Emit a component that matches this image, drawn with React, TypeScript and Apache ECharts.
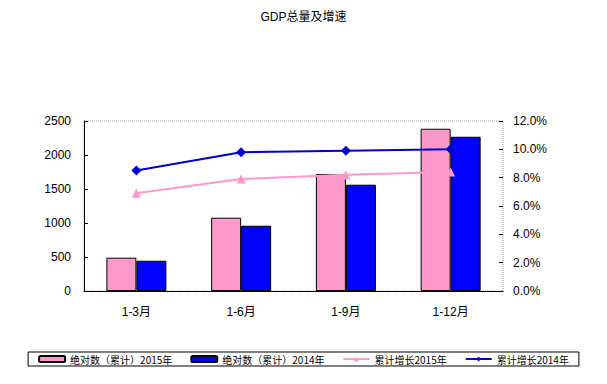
import React, { useEffect, useRef } from "react";
import * as echarts from "echarts";

const categories = ["1-3月", "1-6月", "1-9月", "1-12月"];
const total2015 = [490, 1078, 1720, 2386];
const total2014 = [445, 960, 1563, 2268];
const growth2015 = [6.9, 7.9, 8.2, 8.4];
const growth2014 = [8.5, 9.8, 9.9, 10.0];
const seriesNames = ["绝对数（累计）2015年", "绝对数（累计）2014年", "累计增长2015年", "累计增长2014年"];
const titleText = "GDP总量及增速";

export default function App() {
  const ref = useRef<HTMLDivElement>(null);
  useEffect(() => {
    if (!ref.current) return;
    const chart = echarts.init(ref.current, undefined, { renderer: "svg" });
    const axisFont = { fontFamily: "Liberation Sans, Noto Sans CJK SC", fontSize: 12, color: "#000" };
    chart.setOption({
      animation: false,
      backgroundColor: "#fff",
      title: {
        text: titleText,
        left: "center",
        top: 6,
        textStyle: { fontFamily: "Liberation Sans, Noto Sans CJK SC", fontSize: 12, fontWeight: "normal", color: "#000" },
      },
      grid: {
        left: 84,
        right: 104,
        top: 121,
        bottom: 93,
        show: true,
        borderColor: "#999",
        borderWidth: 1,
        borderType: "dotted",
        backgroundColor: "transparent",
      },
      legend: {
        left: "center",
        top: 352,
        padding: [2, 10],
        itemGap: 18,
        itemWidth: 26,
        itemHeight: 6,
        borderColor: "#000",
        borderWidth: 1,
        textStyle: { fontFamily: "Noto Sans CJK SC", fontSize: 10, color: "#000" },
        data: seriesNames,
      },
      xAxis: {
        type: "category",
        data: categories,
        axisLine: { lineStyle: { color: "#000", width: 1 } },
        axisTick: { inside: true, length: 4, lineStyle: { color: "#000" } },
        axisLabel: { ...axisFont, margin: 15 },
      },
      yAxis: [
        {
          type: "value",
          min: 0,
          max: 2500,
          interval: 500,
          axisLine: { show: true, lineStyle: { color: "#000", width: 1 } },
          axisTick: { show: true, inside: true, length: 4, lineStyle: { color: "#000" } },
          splitLine: { show: false },
          axisLabel: { ...axisFont, margin: 13, formatter: (v: number) => String(v) },
        },
        {
          type: "value",
          min: 0,
          max: 12,
          interval: 2,
          axisLine: { show: false },
          axisTick: { show: true, inside: true, length: 4, lineStyle: { color: "#000" } },
          splitLine: { show: false },
          axisLabel: { ...axisFont, margin: 10, formatter: (v: number) => v.toFixed(1) + "%" },
        },
      ],
      series: [
        {
          name: seriesNames[0],
          type: "bar",
          data: total2015,
          barWidth: 30,
          barGap: "0%",
          itemStyle: { color: "#FF99CC", borderColor: "#000", borderWidth: 1 },
        },
        {
          name: seriesNames[1],
          type: "bar",
          data: total2014,
          barWidth: 30,
          barGap: "0%",
          itemStyle: { color: "#0000FF", borderColor: "#000", borderWidth: 1 },
        },
        {
          name: seriesNames[2],
          type: "line",
          yAxisIndex: 1,
          data: growth2015,
          symbol: "triangle",
          symbolSize: 9,
          lineStyle: { color: "#FF99CC", width: 2 },
          itemStyle: { color: "#FF99CC" },
        },
        {
          name: seriesNames[3],
          type: "line",
          yAxisIndex: 1,
          data: growth2014,
          symbol: "diamond",
          symbolSize: 10,
          lineStyle: { color: "#0000CC", width: 2 },
          itemStyle: { color: "#0000CC" },
        },
      ],
    });
    return () => chart.dispose();
  }, []);
  return <div ref={ref} style={{ width: 607, height: 384, position: "absolute", left: 0, top: 0 }} />;
}
